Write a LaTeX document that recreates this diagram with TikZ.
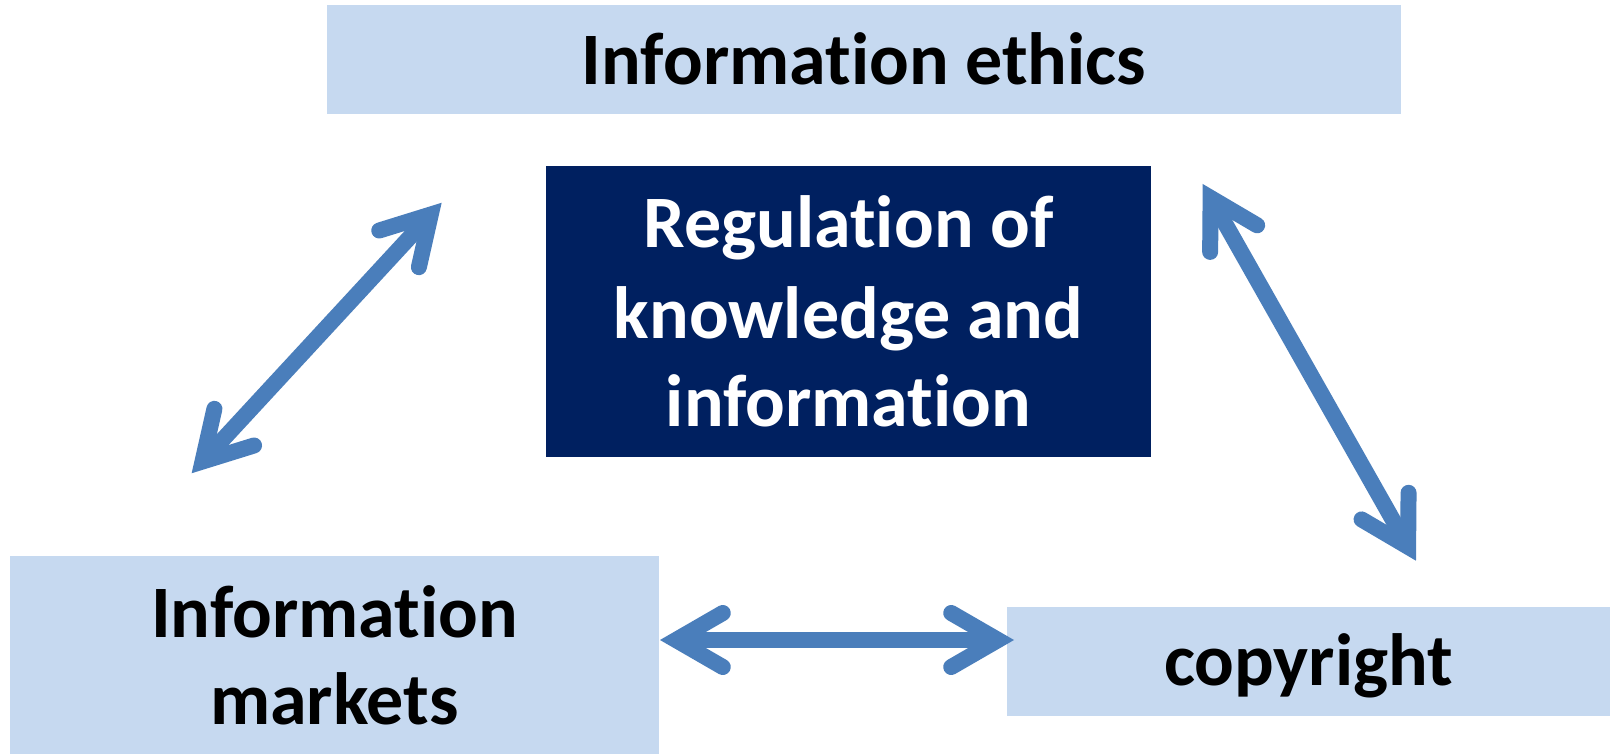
\documentclass[tikz,border=0pt]{standalone}
\usepackage{fontspec}
\setmainfont{Carlito}[Ligatures={NoCommon,NoContextual}]
\usetikzlibrary{calc}
\definecolor{lightbox}{HTML}{C6D9F0}
\definecolor{navy}{HTML}{002060}
\definecolor{arrowblue}{HTML}{4A7EBB}
\newcommand\biarrow[2]{%
  \draw[shaft] (#1) -- (#2);
  \draw[chev] ($(#1)!54pt!30:(#2)$) -- (#1) -- ($(#1)!54pt!-30:(#2)$);
  \draw[chev] ($(#2)!54pt!30:(#1)$) -- (#2) -- ($(#2)!54pt!-30:(#1)$);
}
\begin{document}
\begin{tikzpicture}[x=1pt,y=-1pt,
  lbox/.style={rectangle, fill=lightbox, draw=none, inner sep=0pt},
  dbox/.style={rectangle, fill=navy, draw=none, inner sep=0pt},
  txt/.style={anchor=base, inner sep=0pt, font=\fontsize{74}{89}\selectfont\bfseries},
  shaft/.style={draw=arrowblue, line width=16pt, line cap=butt},
  chev/.style={draw=arrowblue, line width=16pt, line cap=round, line join=miter}]
\useasboundingbox (0,0) rectangle (1610,754);
\fill[white] (0,0) rectangle (1610,754);
% boxes
\node[lbox, minimum width=1074pt, minimum height=109pt] (ethics) at (864,59.5) {};
\node[dbox, minimum width=605pt, minimum height=290.5pt] (reg) at (848.5,311.75) {};
\node[lbox, minimum width=649pt, minimum height=198.5pt] (markets) at (334.5,654.75) {};
\node[lbox, minimum width=603pt, minimum height=109pt] (copy) at (1308.5,661.5) {};
% texts
\node[txt] (t1) at (864,85) {Information ethics};
\node[txt, text=white] (t2) at (848.5,248) {Regulation of};
\node[txt, text=white] (t3) at (848.5,338) {knowledge and};
\node[txt, text=white] (t4) at (848.5,426) {information};
\node[txt] (t5) at (334.5,637) {Information};
\node[txt] (t6) at (334.5,724.5) {markets};
\node[txt] (t7) at (1308.5,685.5) {copyright};
% arrow ends
\coordinate (hl) at (676,640);
\coordinate (hr) at (998,640);
\coordinate (lb) at (202.5,461.5);
\coordinate (lt) at (430.8,214.5);
\coordinate (rt) at (1210.6,197.9);
\coordinate (rb) at (1408.1,546.8);
\biarrow{hl}{hr}
\biarrow{lb}{lt}
\biarrow{rt}{rb}
\end{tikzpicture}
\end{document}
